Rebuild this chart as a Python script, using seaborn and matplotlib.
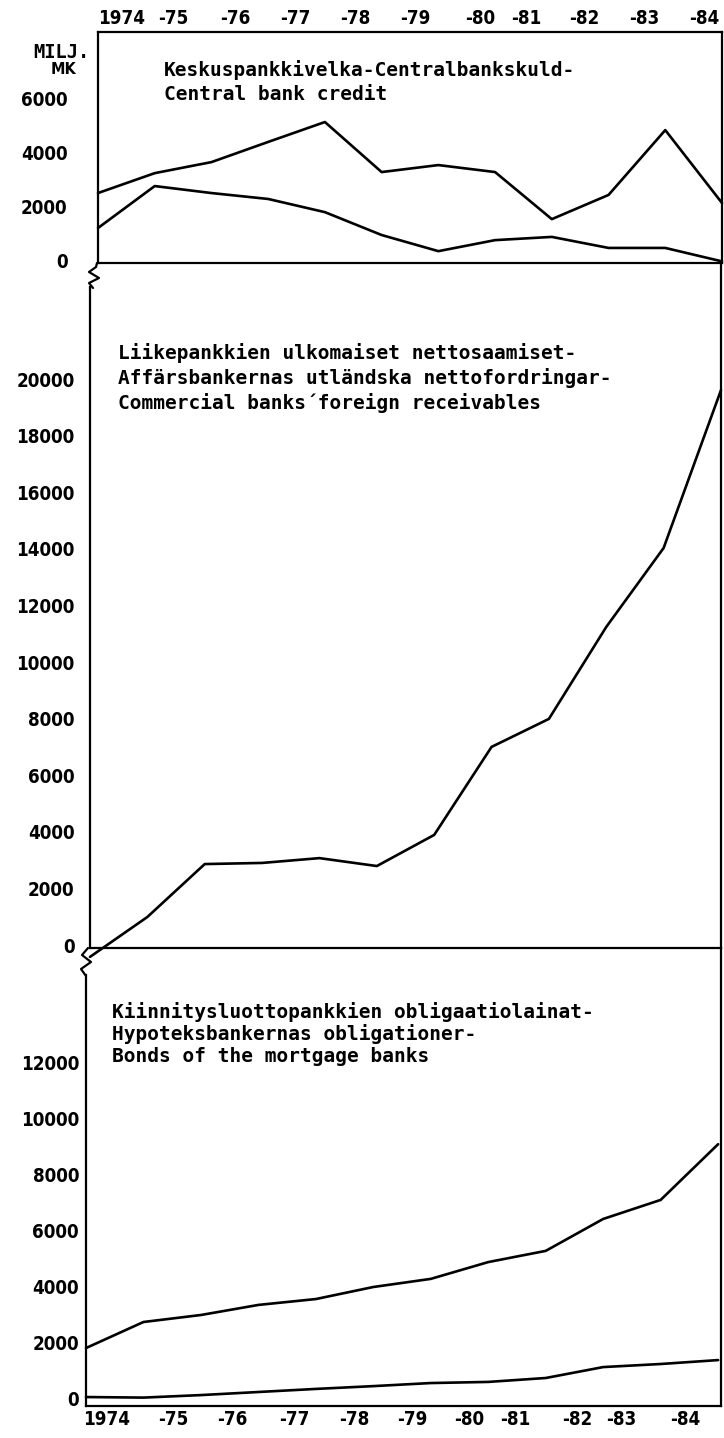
import matplotlib
matplotlib.use("Agg")
import matplotlib.pyplot as plt
import seaborn as sns

# year-end points, 1974 .. 1985
year_marks = [1974, 1975, 1976, 1977, 1978, 1979, 1980, 1981, 1982, 1983, 1984, 1985]

# Keskuspankkivelka (two series, milj. mk)
cb_upper = [2490, 3230, 3640, 4390, 5130, 3270, 3530, 3270, 1520, 2420, 4830, 2120]
cb_lower = [1190, 2750, 2490, 2270, 1780, 930, 330, 740, 860, 450, 450, -50]

# Liikepankkien ulkomaiset nettosaamiset
comm_banks = [-420, 990, 2860, 2900, 3070, 2790, 3890, 7000, 7990, 11240, 14030, 19610]

# Kiinnitysluottopankkien obligaatiolainat (two series)
mort_upper = [1820, 2750, 3000, 3360, 3570, 4000, 4290, 4890, 5290, 6430, 7110, 9100]
mort_lower = [70, 50, 140, 250, 360, 460, 570, 610, 750, 1140, 1250, 1390]

year_labels = ["1974", "-75", "-76", "-77", "-78", "-79", "-80", "-81", "-82", "-83", "-84"]
top_label_pos = [1974.42, 1975.32, 1976.42, 1977.47, 1978.53, 1979.59, 1980.74, 1981.55, 1982.57, 1983.63, 1984.69]
bottom_label_pos = [1974.35, 1975.51, 1976.54, 1977.62, 1978.66, 1979.67, 1980.67, 1981.47, 1982.54, 1983.31, 1984.43]

sns.set_style("white")
plt.rcParams["font.family"] = ["DejaVu Sans"]
plt.rcParams["text.color"] = "black"
plt.rcParams["xtick.color"] = "black"
plt.rcParams["ytick.color"] = "black"

W, H = 724, 1438
fig = plt.figure(figsize=(W / 100, H / 100), dpi=100)


def px_axes(left, top, right, bottom):
    return fig.add_axes([left / W, 1 - bottom / H, (right - left) / W, (bottom - top) / H])


def px(x, y):
    return x / W, 1 - y / H


tick_font = dict(family="DejaVu Sans", weight="bold", stretch="condensed", size=13.5)
title_font = dict(family="DejaVu Sans Mono", weight="bold", size=14, color="black")
LW = 1.9

# ---- top panel ----
ax1 = px_axes(98, 32, 722, 263)
sns.lineplot(x=year_marks, y=cb_upper, ax=ax1, color="black", linewidth=LW, clip_on=False)
sns.lineplot(x=year_marks, y=cb_lower, ax=ax1, color="black", linewidth=LW, clip_on=False)
ax1.set_xlim(1974, 1985)
ax1.set_ylim(-110, 8476)
ax1.set_yticks([0, 2000, 4000, 6000])
ax1.xaxis.tick_top()
ax1.set_xticks(top_label_pos, year_labels)

# ---- middle panel ----
ax2 = px_axes(90, 263, 721, 948)
sns.lineplot(x=year_marks, y=comm_banks, ax=ax2, color="black", linewidth=LW, clip_on=False)
ax2.set_xlim(1974, 1985)
ax2.set_ylim(-106, 24100)
ax2.set_yticks(range(0, 20001, 2000))
ax2.set_xticks([])
ax2.spines["top"].set_visible(False)
ax2.spines["left"].set_bounds(-106, (945 - 287) / 0.0283)

# ---- bottom panel ----
ax3 = px_axes(86, 948, 721, 1406)
sns.lineplot(x=year_marks, y=mort_upper, ax=ax3, color="black", linewidth=LW, clip_on=False)
sns.lineplot(x=year_marks, y=mort_lower, ax=ax3, color="black", linewidth=LW, clip_on=False)
ax3.set_xlim(1974, 1985.05)
ax3.set_ylim(-250, 16107)
ax3.set_yticks(range(0, 12001, 2000))
ax3.set_xticks(bottom_label_pos, year_labels)
ax3.spines["top"].set_visible(False)
ax3.spines["left"].set_bounds(-250, (1399 - 975) / 0.028)

for ax, pad in [(ax1, 22), (ax2, 11), (ax3, 5)]:
    ax.set_xlabel("")
    ax.set_ylabel("")
    ax.grid(False)
    ax.set_facecolor("none")
    for s in ax.spines.values():
        s.set_color("black")
        s.set_linewidth(1.6)
    ax.tick_params(length=0, pad=pad, axis="y", colors="black")
    ax.tick_params(length=0, pad=3, axis="x", colors="black")
    for lab in ax.get_yticklabels() + ax.get_xticklabels():
        lab.set_fontproperties(matplotlib.font_manager.FontProperties(**tick_font))
        lab.set_color("black")

# axis break marks
brk1 = [(97, 263), (96, 267), (89, 272), (99, 278), (89, 283), (93, 288)]
brk2 = [(88, 948), (82, 955), (91, 962), (81, 969), (86, 976)]
for brk in (brk1, brk2):
    xs = [px(x, y)[0] for x, y in brk]
    ys = [px(x, y)[1] for x, y in brk]
    ax1.plot(xs, ys, transform=fig.transFigure, clip_on=False, color="black", linewidth=1.6)

# unit label
fig.text(*px(61, 52), "MILJ.", ha="center", va="center", **dict(title_font, size=13.5))
fig.text(*px(64, 69), "MK", ha="center", va="center", family="DejaVu Sans", weight="bold",
         stretch="condensed", size=11.5, color="black")

# panel titles
for y, s in [(70, "Keskuspankkivelka-Centralbankskuld-"), (95, "Central bank credit")]:
    fig.text(*px(164, y), s, ha="left", va="center", **title_font)
for y, s in [(353, "Liikepankkien ulkomaiset nettosaamiset-"),
             (378, "Affärsbankernas utländska nettofordringar-"),
             (403, "Commercial banks´foreign receivables")]:
    fig.text(*px(118, y), s, ha="left", va="center", **title_font)
for y, s in [(1012, "Kiinnitysluottopankkien obligaatiolainat-"),
             (1034, "Hypoteksbankernas obligationer-"),
             (1056, "Bonds of the mortgage banks")]:
    fig.text(*px(112, y), s, ha="left", va="center", **title_font)

fig.savefig("out.png", dpi=100, facecolor="white")
